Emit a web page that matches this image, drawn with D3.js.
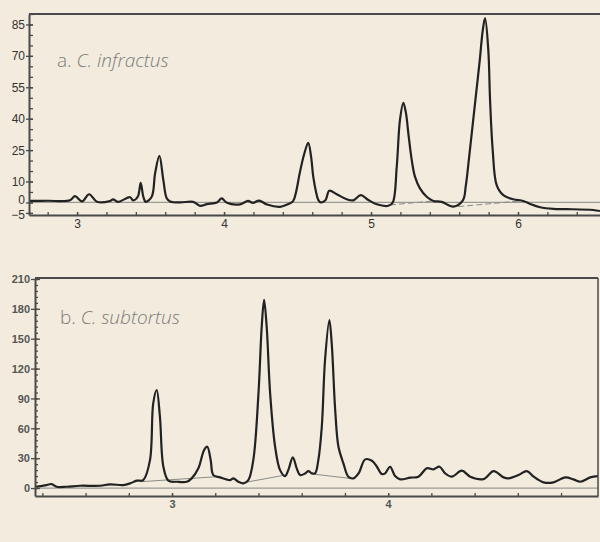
<!DOCTYPE html>
<html><head><meta charset="utf-8">
<script src="https://cdn.jsdelivr.net/npm/d3@7"></script>
<style>
html,body{margin:0;padding:0;background:#f3ecde;}
svg{display:block;}
</style></head>
<body>
<svg id="chart" width="600" height="542"></svg>
<script>
// ---------- Data: panel a (C. infractus) ----------
const aTime = [2.673,2.80,2.952,2.986,3.034,3.082,3.136,3.224,3.245,3.279,3.361,3.381,3.413,3.433,3.451,3.467,3.508,3.531,3.560,3.587,3.610,3.633,3.701,3.789,3.837,3.884,3.952,3.984,4.020,4.109,4.163,4.197,4.238,4.293,4.381,4.429,4.469,4.490,4.515,4.545,4.573,4.592,4.607,4.626,4.641,4.658,4.690,4.716,4.767,4.835,4.880,4.930,4.982,5.039,5.118,5.148,5.175,5.197,5.220,5.238,5.254,5.277,5.299,5.333,5.379,5.424,5.481,5.560,5.625,5.645,5.665,5.690,5.715,5.740,5.760,5.776,5.798,5.810,5.828,5.855,5.900,5.968,6.036,6.082,6.150,6.240,6.331,6.512,6.558];
const aSignal = [0.7,0.8,1.0,3.0,0.5,3.9,0.3,0.7,1.5,0.3,2.5,1.0,2.7,9.4,2.7,0.3,2.7,13.9,22.2,10.7,2.0,0.5,0.0,0.3,-1.6,-0.8,0.0,1.9,-0.2,-0.9,0.7,-0.2,0.9,-1.0,-2.1,-1.0,0.5,5.0,14.0,23.0,28.5,22.0,12.3,5.0,1.2,0.0,1.0,5.6,3.9,1.5,1.0,3.5,1.2,-0.9,-1.6,0.0,17.0,39.4,47.6,42.6,33.0,20.3,12.3,6.7,2.7,0.7,0.3,-2.0,1.0,8.0,20.0,36.0,52.0,68.0,82.0,88.0,72.8,48.9,25.0,8.3,3.5,1.5,0.7,-0.7,-2.3,-3.1,-3.2,-3.6,-4.1];
const aBaseStart = [[5.129,-1.2],[5.594,-2.0]];
const aBaseEnd   = [[5.424,0.7],[6.014,0.7]];
const aYTicks = [85,70,55,40,25,10,0,-5];
const aXTicks = [3,4,5,6];
const aLabel = ["a. ", "C. infractus"];

// ---------- Data: panel b (C. subtortus) ----------
const bTime = [2.366,2.420,2.443,2.466,2.512,2.574,2.667,2.713,2.775,2.806,2.837,2.867,2.898,2.913,2.929,2.944,2.960,2.983,3.022,3.068,3.091,3.122,3.148,3.163,3.179,3.191,3.222,3.269,3.284,3.307,3.330,3.353,3.376,3.400,3.415,3.426,3.438,3.454,3.477,3.500,3.523,3.538,3.559,3.577,3.593,3.616,3.631,3.647,3.662,3.677,3.693,3.708,3.728,3.739,3.755,3.770,3.793,3.816,3.839,3.863,3.894,3.925,3.948,3.971,3.986,4.009,4.032,4.056,4.102,4.140,4.179,4.210,4.238,4.264,4.295,4.341,4.380,4.441,4.488,4.534,4.557,4.603,4.642,4.673,4.719,4.765,4.819,4.858,4.889,4.935,4.971];
const bSignal = [1.3,3.0,4.0,1.3,1.3,2.3,2.3,3.7,3.0,4.7,7.4,8.0,28,85,98.5,71.7,21.4,7.4,6.3,6.3,9.7,19.8,38,41.5,28,13,10.7,8.0,9.7,6.3,4.7,8.0,28,95,162,189,162,95,41.5,18,12,18,30.8,19.8,13,14.7,17,14.7,14.7,28,61.6,128.6,168.8,145,78.4,41.5,24.8,11.4,9.7,14.7,28.8,27.4,21.4,14,14.7,21.4,12,8.7,10.4,11.4,19.8,18.8,21.4,14.7,11.4,17.4,11.4,9,17,10.7,9.7,13,17,11.4,5.7,5.7,10.7,8.7,6.3,10.7,12];
const bBaseStart = [[2.852,6.3],[3.329,5.3],[3.662,13.8]];
const bBaseEnd   = [[3.207,11.4],[3.523,13.0],[3.824,9.7]];
const bYTicks = [0,30,60,90,120,150,180,210];
const bXTicks = [3,4];
const bLabel = ["b. ", "C. subtortus"];

const svg = d3.select("#chart");
const ink = "#222";
const frame = "#4a4a4a";

function panel(cfg) {
  const g = svg.append("g");
  const x = d3.scaleLinear().domain(cfg.xDomain).range(cfg.xRange);
  const y = d3.scaleLinear().domain(cfg.yDomain).range(cfg.yRange);
  const [x0, x1] = cfg.xRange, [yb, yt] = cfg.yRange;

  const clipId = "clip" + cfg.id;
  svg.append("clipPath").attr("id", clipId).append("rect")
    .attr("x", x0).attr("y", yt).attr("width", x1 - x0).attr("height", yb - yt);

  // zero line
  g.append("line").attr("x1", x0).attr("x2", x1)
    .attr("y1", y(0)).attr("y2", y(0))
    .attr("stroke", "#9a9a96").attr("stroke-width", 1.2);

  // integration baselines
  cfg.baseStart.forEach((s, i) => {
    const e = cfg.baseEnd[i];
    g.append("line").attr("x1", x(s[0])).attr("y1", y(s[1]))
      .attr("x2", x(e[0])).attr("y2", y(e[1]))
      .attr("stroke", "#8a8a86").attr("stroke-width", 1)
      .attr("stroke-dasharray", cfg.dash);
  });

  // trace
  const pts = cfg.time.map((t, i) => [t, cfg.signal[i]]);
  const line = d3.line().x(d => x(d[0])).y(d => y(d[1])).curve(d3.curveCatmullRom.alpha(0.5));
  g.append("path").datum(pts).attr("d", line)
    .attr("clip-path", `url(#${clipId})`)
    .attr("fill", "none").attr("stroke", ink).attr("stroke-width", 2.2)
    .attr("stroke-linejoin", "round");

  // frame
  g.append("line").attr("x1", x0).attr("x2", x1).attr("y1", yt).attr("y2", yt)
    .attr("stroke", frame).attr("stroke-width", 2);
  if (cfg.rightBorder) {
    g.append("line").attr("x1", x1).attr("x2", x1).attr("y1", yt).attr("y2", yb)
      .attr("stroke", frame).attr("stroke-width", 1.5);
  }

  // minor y ticks
  const yMinor = d3.range(cfg.yMinorStart, cfg.yDomain[1] + 0.001, cfg.yMinorStep);
  const yMinAx = g.append("g").attr("transform", `translate(${x0},0)`)
    .call(d3.axisLeft(y).tickValues(yMinor).tickSize(-cfg.minorIn).tickFormat(""));
  yMinAx.select(".domain").remove();
  yMinAx.selectAll(".tick line").attr("stroke", frame).attr("stroke-width", 1.3);

  // major y ticks + labels
  const yAx = g.append("g").attr("transform", `translate(${x0},0)`)
    .call(d3.axisLeft(y).tickValues(cfg.yTicks).tickSizeInner(cfg.majorOut).tickSizeOuter(0).tickPadding(1));
  yAx.select(".domain").attr("stroke", frame).attr("stroke-width", 2);
  yAx.selectAll(".tick line").attr("x1", cfg.majorIn).attr("stroke", frame).attr("stroke-width", 1.3);
  yAx.selectAll(".tick text").attr("fill", cfg.tickColor)
    .attr("dy", d => (cfg.yLabelShift[d] || 0) + cfg.yLabelDy)
    .style("font-family", cfg.tickFont).style("font-size", cfg.tickSize + "px")
    .style("font-weight", cfg.tickWeight);

  // x minor ticks
  const xMinor = d3.range(Math.ceil(cfg.xDomain[0] * 5) / 5, cfg.xDomain[1], 0.2);
  const xMinAx = g.append("g").attr("transform", `translate(0,${yb})`)
    .call(d3.axisBottom(x).tickValues(xMinor).tickSize(-cfg.xTickIn).tickFormat(""));
  xMinAx.select(".domain").remove();
  xMinAx.selectAll(".tick line").attr("stroke", frame).attr("stroke-width", 1.3);

  // x major + labels
  const xAx = g.append("g").attr("transform", `translate(0,${yb})`)
    .call(d3.axisBottom(x).tickValues(cfg.xTicks).tickSizeInner(-cfg.xTickIn).tickSizeOuter(0).tickPadding(cfg.xPad).tickFormat(d3.format("d")));
  xAx.select(".domain").attr("stroke", frame).attr("stroke-width", 2);
  xAx.selectAll(".tick line").attr("stroke", frame).attr("stroke-width", 1.3);
  xAx.selectAll(".tick text").attr("fill", cfg.tickColor)
    .style("font-family", cfg.tickFont).style("font-size", cfg.tickSize + "px")
    .style("font-weight", cfg.tickWeight);

  // panel label
  const t = g.append("text").attr("x", cfg.labelPos[0]).attr("y", cfg.labelPos[1])
    .attr("fill", "#7b7b7b")
    .style("font-family", "'Open Sans', 'Noto Sans', sans-serif")
    .style("font-weight", 300).style("font-size", "19px");
  t.append("tspan").text(cfg.label[0]);
  t.append("tspan").style("font-style", "italic").text(cfg.label[1]);
}

panel({
  id: "a", time: aTime, signal: aSignal, baseStart: aBaseStart, baseEnd: aBaseEnd,
  xDomain: [2.673, 6.558], xRange: [29, 600], yDomain: [-6, 90], yRange: [215, 14],
  yTicks: aYTicks, xTicks: aXTicks, yMinorStart: -5, yMinorStep: 5,
  minorIn: 4, majorOut: 3, majorIn: 4, xTickIn: 3, xPad: 4,
  yLabelDy: 4, yLabelShift: {"0": -3, "-5": 1.8},
  tickFont: "'Liberation Sans', Arial, sans-serif", tickSize: 12, tickWeight: 400, tickColor: "#333",
  rightBorder: false, dash: "6,3", label: aLabel, labelPos: [57, 67]
});

panel({
  id: "b", time: bTime, signal: bSignal, baseStart: bBaseStart, baseEnd: bBaseEnd,
  xDomain: [2.366, 4.971], xRange: [35, 598], yDomain: [-8, 211], yRange: [496, 278],
  yTicks: bYTicks, xTicks: bXTicks, yMinorStart: 0, yMinorStep: 6,
  minorIn: 3, majorOut: 4, majorIn: 5, xTickIn: 3, xPad: 4,
  yLabelDy: 3.8, yLabelShift: {},
  tickFont: "'Liberation Sans', Arial, sans-serif", tickSize: 11, tickWeight: 700, tickColor: "#555",
  rightBorder: true, dash: "none", label: bLabel, labelPos: [60, 324]
});
</script>
</body></html>
